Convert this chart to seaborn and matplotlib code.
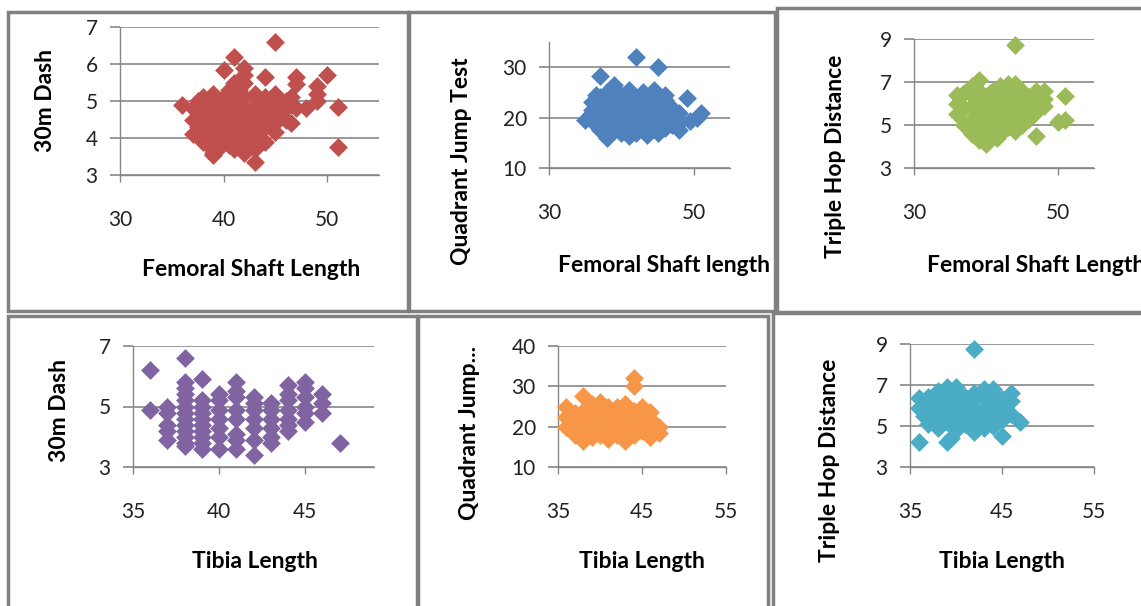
import numpy as np
import matplotlib.pyplot as plt
import seaborn as sns
from matplotlib.patches import Rectangle
from matplotlib.ticker import FixedLocator

# ---- data ----
# Femoral shaft length vs 30m dash
fem_dash_x = [45, 41, 40, 42, 42, 44, 47, 47, 50, 49, 51, 51, 43, 36, 39, 48, 46, 45, 41,
              37, 37, 37, 37.5, 37.5, 38, 38, 38, 38, 38, 38.5, 38.5, 38.5,
              39, 39, 39, 39, 39, 39, 39.5, 39.5, 39.5, 40, 40, 40, 40, 40,
              40.5, 40.5, 40.5, 40.5, 41, 41, 41, 41, 41, 41, 41.5, 41.5, 41.5, 41.5,
              42, 42, 42, 42, 42, 42, 42.5, 42.5, 42.5, 43, 43, 43, 43, 43.5, 43.5, 43.5,
              44, 44, 44, 44, 44.5, 44.5, 45, 45, 45, 45, 45.5, 45.5, 46, 46,
              46.5, 46.5, 46.5, 47, 49, 49]
fem_dash_y = [6.6, 6.2, 5.85, 5.9, 5.7, 5.65, 5.65, 5.45, 5.7, 5.4, 4.85, 3.75, 3.35, 4.9, 3.55, 4.8, 4.5, 4.15, 5.5,
              4.1, 4.5, 4.8, 4.3, 5.0, 3.9, 4.2, 4.6, 4.9, 5.1, 3.8, 4.4, 4.7,
              3.6, 4.0, 4.3, 4.6, 5.0, 5.2, 3.7, 4.1, 4.8, 3.9, 4.2, 4.5, 4.9, 5.1,
              3.8, 4.4, 4.7, 5.3, 3.7, 4.0, 4.3, 4.6, 4.9, 5.2, 3.9, 4.5, 5.0, 5.3,
              3.6, 3.8, 4.2, 4.8, 5.1, 5.5, 4.0, 4.4, 4.7, 3.7, 4.1, 4.9, 5.2, 4.3, 4.6, 5.0,
              3.9, 4.3, 4.8, 5.1, 4.5, 4.9, 4.4, 4.7, 5.0, 5.2, 4.6, 4.9, 4.8, 5.0,
              4.4, 4.9, 5.1, 4.8, 5.0, 5.2]

# Femoral shaft length vs quadrant jump test
fem_jump_x = [42, 45, 37, 49, 51, 50.5, 49.5, 48, 38, 35, 39, 41, 44.5, 46, 41, 43.5,
              36, 36, 36, 36.5, 36.5, 36.5, 37, 37, 37, 37, 38, 38, 38, 38, 38,
              39, 39, 39, 39, 39, 40, 40, 40, 40, 40, 40, 41, 41, 41, 41, 41,
              42, 42, 42, 42, 42, 43, 43, 43, 43, 43, 43, 44, 44, 44, 44, 44,
              45, 45, 45, 45, 45, 46, 46, 46, 46, 47, 47, 47, 48, 48]
fem_jump_y = [32, 30, 28.2, 23.8, 21, 20, 19.3, 17.5, 16, 19.5, 26.5, 25.5, 25.5, 24.5, 16.3, 16.5,
              20, 21.5, 23, 18.5, 22.5, 24.5, 17.5, 19.5, 21, 24, 18, 20, 22, 23.5, 25,
              17.5, 19, 21, 22.5, 24, 17, 18.5, 20, 21.5, 23, 24.5, 18, 19.5, 21, 22.5, 24,
              17, 18.5, 20, 22, 23.5, 17.5, 19, 20.5, 22, 24, 25, 18, 19.5, 21, 23, 24.5,
              17, 19, 20.5, 22, 24, 18, 20, 22, 23.5, 18.5, 20.5, 22, 19, 21]

# Femoral shaft length vs triple hop distance
fem_hop_x = [44, 39, 36, 51, 50, 51, 47, 39, 40, 41.5, 48, 44, 42, 40.5,
             36, 36, 37, 37, 37, 38, 38, 38, 38, 38, 39, 39, 39, 39, 39,
             40, 40, 40, 40, 41, 41, 41, 41, 42, 42, 42, 42, 43, 43, 43, 43, 43,
             44, 44, 44, 44, 45, 45, 45, 45, 46, 46, 46, 47, 47, 47, 48, 48]
fem_hop_y = [8.7, 7.1, 6.4, 6.35, 5.15, 5.25, 4.5, 4.3, 4.1, 4.4, 6.6, 6.9, 6.8, 6.5,
             5.5, 6.0, 5.0, 5.8, 6.5, 4.6, 5.3, 5.9, 6.4, 6.8, 4.8, 5.2, 5.7, 6.2, 6.6,
             4.7, 5.4, 5.9, 6.3, 5.0, 5.5, 6.0, 6.6, 4.6, 5.2, 5.8, 6.3, 4.9, 5.4, 6.0, 6.5, 6.9,
             4.7, 5.1, 5.6, 6.2, 5.0, 5.5, 6.0, 6.6, 5.3, 5.9, 6.3, 5.6, 6.1, 6.6, 5.9, 6.2]

# Tibia length vs 30m dash
tib_dash_x = [36, 36,
              37, 37, 37, 37, 37,
              38, 38, 38, 38, 38, 38, 38, 38, 38, 38, 38, 38, 38,
              39, 39, 39, 39, 39, 39, 39, 39, 39, 39,
              40, 40, 40, 40, 40, 40, 40,
              41, 41, 41, 41, 41, 41, 41, 41,
              42, 42, 42, 42, 42, 42, 42,
              43, 43, 43, 43, 43, 43,
              44, 44, 44, 44, 44, 44, 44,
              45, 45, 45, 45, 45, 45,
              46, 46, 46, 47]
tib_dash_y = [6.2, 4.9,
              5.0, 4.8, 4.4, 4.2, 3.9,
              6.6, 5.8, 5.6, 5.4, 5.2, 5.0, 4.8, 4.6, 4.4, 4.2, 4.0, 3.8, 3.7,
              5.9, 5.2, 5.0, 4.8, 4.6, 4.4, 4.2, 4.0, 3.8, 3.6,
              5.4, 5.2, 4.9, 4.6, 4.3, 4.0, 3.6,
              5.8, 5.5, 5.3, 4.9, 4.6, 4.1, 3.9, 3.6,
              5.3, 5.1, 4.9, 4.6, 4.3, 3.9, 3.4,
              5.1, 4.9, 4.6, 4.3, 4.0, 3.8,
              5.7, 5.4, 5.2, 4.9, 4.6, 4.4, 4.2,
              5.8, 5.6, 5.3, 5.0, 4.8, 4.5,
              5.4, 5.1, 4.8, 3.8]

# Tibia length vs quadrant jump test
tib_jump_x = [44, 44, 38,
              36, 36, 36, 37, 37, 37, 37, 38, 38, 38, 38, 38,
              39, 39, 39, 39, 39, 40, 40, 40, 40, 40, 41, 41, 41, 41, 41,
              42, 42, 42, 42, 42, 43, 43, 43, 43, 43, 44, 44, 44, 44,
              45, 45, 45, 45, 46, 46, 46, 46, 47, 47]
tib_jump_y = [32, 30, 27.5,
              20, 22.5, 25, 18, 19.5, 21.5, 23.5, 16.5, 18.5, 20.5, 22, 24,
              17.5, 19.5, 21, 23, 25.5, 18, 20, 22, 24, 26, 17, 19, 21, 23, 25,
              18, 20, 22, 24, 25, 16.5, 19, 21, 23, 25.5, 18, 20, 22, 24,
              19, 21, 23, 25, 17.5, 20, 22, 23.7, 20, 18.5]

# Tibia length vs triple hop distance
tib_hop_x = [42, 36, 36, 39, 39.5, 47, 45, 42, 39, 40, 43, 44, 46, 46, 46, 36, 36.5,
             37, 37, 37, 37, 38, 38, 38, 38, 38, 39, 39, 39, 39,
             40, 40, 40, 40, 40, 41, 41, 41, 41, 42, 42, 42, 42,
             43, 43, 43, 43, 44, 44, 44, 44, 45, 45, 45]
tib_hop_y = [8.75, 4.2, 6.35, 4.2, 4.4, 5.2, 4.5, 4.7, 6.9, 6.9, 6.8, 6.8, 6.6, 6.2, 5.6, 5.9, 5.5,
             5.1, 5.6, 6.1, 6.4, 4.9, 5.4, 5.9, 6.3, 6.7, 5.2, 5.7, 6.1, 6.5,
             4.8, 5.3, 5.8, 6.2, 6.6, 5.1, 5.5, 6.0, 6.4, 5.3, 5.8, 6.3, 6.6,
             4.9, 5.4, 5.9, 6.4, 5.0, 5.6, 6.1, 6.5, 5.3, 5.8, 6.3]

W, H = 1141, 606
GRID = "#868686"
BORDER = "#808080"

sns.set_theme(style="white")
plt.rcParams["font.family"] = ["Lato", "DejaVu Sans"]

fig = plt.figure(figsize=(W / 100, H / 100), dpi=100)


def frect(x0, y0, x1, y1):
    # pixel box (top-left origin) -> figure fraction [left, bottom, width, height]
    return [x0 / W, 1 - y1 / H, (x1 - x0) / W, (y1 - y0) / H]


panels = [
    dict(x=fem_dash_x, y=fem_dash_y, color="#C0504D", box=(8, 12, 408, 311),
         ax=(120, 27, 379, 175), xlim=(30, 55), xstep=10, ylim=(3, 7), ystep=1,
         xlabel="Femoral Shaft Length", xl=(251, 270, "center"), ylabel="30m Dash", yl=(45, 100)),
    dict(x=fem_jump_x, y=fem_jump_y, color="#4F81BD", box=(409, 12, 775, 311),
         ax=(549, 42, 730, 168), xlim=(30, 55), xstep=20, ylim=(10, 35), ystep=10,
         xlabel="Femoral Shaft length", xl=(558, 265, "left"), ylabel="Quadrant Jump Test", yl=(462, 161)),
    dict(x=fem_hop_x, y=fem_hop_y, color="#9BBB59", box=(777, 8, 1160, 312),
         ax=(914, 39, 1094, 168), xlim=(30, 55), xstep=20, ylim=(3, 9), ystep=2,
         xlabel="Femoral Shaft Length", xl=(927, 265, "left"), ylabel="Triple Hop Distance", yl=(835, 156)),
    dict(x=tib_dash_x, y=tib_dash_y, color="#8064A2", box=(8, 316, 417, 620),
         ax=(133, 346, 374, 467), xlim=(35, 49), xstep=5, ylim=(3, 7), ystep=2,
         xlabel="Tibia Length", xl=(255, 562, "center"), ylabel="30m Dash", yl=(60, 410)),
    dict(x=tib_jump_x, y=tib_jump_y, color="#F79646", box=(418, 316, 768, 620),
         ax=(558, 346, 726, 467), xlim=(35, 55), xstep=10, ylim=(10, 40), ystep=10,
         xlabel="Tibia Length", xl=(642, 562, "center"), ylabel="Quadrant Jump...", yl=(470, 433)),
    dict(x=tib_hop_x, y=tib_hop_y, color="#4BACC6", box=(773, 313, 1160, 620),
         ax=(910, 344, 1094, 467), xlim=(35, 55), xstep=10, ylim=(3, 9), ystep=2,
         xlabel="Tibia Length", xl=(1002, 562, "center"), ylabel="Triple Hop Distance", yl=(830, 460)),
]

for i, p in enumerate(panels):
    z = 10 * i
    x0, y0, x1, y1 = p["box"]
    fig.patches.append(Rectangle((x0 / W, 1 - y1 / H), (x1 - x0) / W, (y1 - y0) / H,
                                 transform=fig.transFigure, facecolor="white",
                                 edgecolor=BORDER, linewidth=2.5, zorder=z))

    ax = fig.add_axes(frect(*p["ax"]), zorder=z + 1)
    ax.set_facecolor("none")
    sns.scatterplot(x=p["x"], y=p["y"], ax=ax, marker="D", s=92, color=p["color"],
                    linewidth=0, alpha=1, zorder=3, clip_on=False)
    ax.set_xlim(*p["xlim"])
    ax.set_ylim(*p["ylim"])
    ax.xaxis.set_major_locator(FixedLocator(np.arange(p["xlim"][0], p["xlim"][1] + 0.01, p["xstep"])))
    ax.yaxis.set_major_locator(FixedLocator(np.arange(p["ylim"][0], p["ylim"][1] + 0.01, p["ystep"])))
    ax.set_axisbelow(True)
    ax.yaxis.grid(True, color=GRID, linewidth=1.2)
    ax.xaxis.grid(False)
    for s in ["top", "right"]:
        ax.spines[s].set_visible(False)
    for s in ["left", "bottom"]:
        ax.spines[s].set_color(GRID)
        ax.spines[s].set_linewidth(1.0)
    ax.tick_params(axis="x", direction="out", length=5, width=1, color=GRID,
                   labelsize=15, pad=20, bottom=True)
    ax.tick_params(axis="y", direction="out", length=7, width=1.2, color=GRID,
                   labelsize=15, pad=9, left=True)
    for lab in ax.get_xticklabels() + ax.get_yticklabels():
        lab.set_color("#222222")
    ax.set_xlabel("")
    ax.set_ylabel("")

    tx, ty, ha = p["xl"]
    fig.text(tx / W, 1 - ty / H, p["xlabel"], ha=ha, va="center",
             fontsize=16.5, fontweight="bold", color="black", zorder=z + 2)
    lx, ly = p["yl"]
    fig.text(lx / W, 1 - ly / H, p["ylabel"], ha="center", va="center", rotation=90,
             fontsize=16.5, fontweight="bold", color="black", zorder=z + 2)

fig.savefig("out.png", dpi=100, facecolor="white")
